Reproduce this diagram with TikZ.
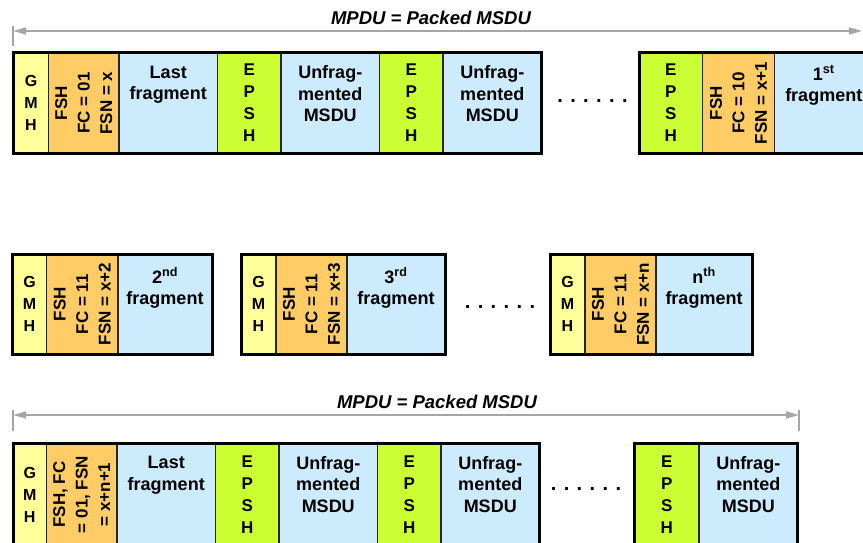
\documentclass[tikz,border=0pt]{standalone}
\usepackage{fontspec}
\setsansfont{Liberation Sans}
\usetikzlibrary{positioning,arrows.meta}
\definecolor{gmhyellow}{HTML}{FFFF99}
\definecolor{fshorange}{HTML}{FFCC66}
\definecolor{datablue}{HTML}{CCEBFC}
\definecolor{epshgreen}{HTML}{CCFF33}
\begin{document}
\begin{tikzpicture}[x=1pt, y=-1pt,
    cell/.style={draw=black!85, line width=1.3pt, outer sep=0pt, inner sep=0pt,
      anchor=north west, minimum height=101pt, align=center},
    gmh/.style={cell, fill=gmhyellow, minimum width=35pt,
      font=\sffamily\bfseries\fontsize{16}{22}\selectfont},
    fsh/.style={cell, fill=fshorange, minimum width=70.5pt},
    data/.style={cell, fill=datablue, minimum width=98.5pt},
    epsh/.style={cell, fill=epshgreen, minimum width=63.5pt,
      font=\sffamily\bfseries\fontsize{17}{22}\selectfont},
    fshtext/.style={rotate=90, inner sep=0pt, align=center,
      font=\sffamily\bfseries\fontsize{17}{22.5}\selectfont},
    datatext/.style={inner sep=0pt, align=center,
      font=\sffamily\bfseries\fontsize{18}{21.5}\selectfont},
    frame/.style={draw=black, line width=3pt},
    span/.style={draw=black!35, line width=1.3pt},
    title/.style={inner sep=0pt, font=\sffamily\bfseries\itshape\fontsize{18.5}{22}\selectfont},
    dots/.style={inner sep=0pt, font=\sffamily\bfseries\fontsize{20}{22}\selectfont}]
  \tikzset{>={Triangle[length=13pt,width=7pt]}}
  \useasboundingbox (0,0) rectangle (863,543);
  \clip (0,0) rectangle (863,543);

  % packed MPDU, top
  \node[title] (title1) at (431,18) {MPDU = Packed MSDU};
  \coordinate (sl1) at (13,31);
  \coordinate (sr1) at (862,31);
  \draw[span, <->] (sl1) -- (sr1);
  \draw[span] ([yshift=5pt]sl1) -- ([yshift=-15pt]sl1);

  \node[gmh] (gmh1) at (13.5,52.5) {G\\M\\H};
  \node[fsh, right=0pt of gmh1] (fsh1) {};
  \node[fshtext] (fsh1t) at (fsh1) {FSH\\FC = 01\\FSN = x};
  \node[data, right=0pt of fsh1] (last1) {};
  \node[datatext, below=13pt of last1.north] (last1t) {Last\\fragment};
  \node[epsh, right=0pt of last1] (epsh1) {E\\P\\S\\H};
  \node[data, right=0pt of epsh1] (msdu1) {};
  \node[datatext, below=13pt of msdu1.north] (msdu1t) {Unfrag-\\mented\\MSDU};
  \node[epsh, right=0pt of msdu1] (epsh2) {E\\P\\S\\H};
  \node[data, right=0pt of epsh2] (msdu2) {};
  \node[datatext, below=13pt of msdu2.north] (msdu2t) {Unfrag-\\mented\\MSDU};
  \draw[frame] (gmh1.north west) rectangle (msdu2.south east);

  \node[dots] (k1) at (592.5,101) {. . . . . .};

  \node[epsh] (epsh3) at (639,52.5) {E\\P\\S\\H};
  \node[fsh, minimum width=72pt, right=0pt of epsh3] (fsh2) {};
  \node[fshtext] (fsh2t) at (fsh2) {FSH\\FC = 10\\FSN = x+1};
  \node[data, right=0pt of fsh2] (frag1) {};
  \node[datatext, below=13pt of frag1.north] (frag1t) {1\textsuperscript{st}\\fragment};
  \draw[frame] (epsh3.north west) rectangle (frag1.south east);

  % fragments in their own MPDUs
  \node[gmh, minimum height=99.5pt, minimum width=34pt] (gmh2) at (12.5,254.5) {G\\M\\H};
  \node[fsh, minimum height=99.5pt, minimum width=71.5pt, right=0pt of gmh2] (fsh3) {};
  \node[fshtext] (fsh3t) at (fsh3) {FSH\\FC = 11\\FSN = x+2};
  \node[data, minimum height=99.5pt, minimum width=94pt, right=0pt of fsh3] (frag2) {};
  \node[datatext, below=13pt of frag2.north] (frag2t) {2\textsuperscript{nd}\\fragment};
  \draw[frame] (gmh2.north west) rectangle (frag2.south east);

  \node[gmh, minimum height=99.5pt] (gmh3) at (241,254.5) {G\\M\\H};
  \node[fsh, minimum height=99.5pt, minimum width=71pt, right=0pt of gmh3] (fsh4) {};
  \node[fshtext] (fsh4t) at (fsh4) {FSH\\FC = 11\\FSN = x+3};
  \node[data, minimum height=99.5pt, minimum width=98pt, right=0pt of fsh4] (frag3) {};
  \node[datatext, below=13pt of frag3.north] (frag3t) {3\textsuperscript{rd}\\fragment};
  \draw[frame] (gmh3.north west) rectangle (frag3.south east);

  \node[dots] (k2) at (500,307) {. . . . . .};

  \node[gmh, minimum height=99.5pt] (gmh4) at (550,254.5) {G\\M\\H};
  \node[fsh, minimum height=99.5pt, minimum width=71pt, right=0pt of gmh4] (fsh5) {};
  \node[fshtext] (fsh5t) at (fsh5) {FSH\\FC = 11\\FSN = x+n};
  \node[data, minimum height=99.5pt, minimum width=96pt, right=0pt of fsh5] (fragn) {};
  \node[datatext, below=13pt of fragn.north] (fragnt) {n\textsuperscript{th}\\fragment};
  \draw[frame] (gmh4.north west) rectangle (fragn.south east);

  % packed MPDU, bottom
  \node[title] (title2) at (437,402) {MPDU = Packed MSDU};
  \coordinate (sl2) at (13,415);
  \coordinate (sr2) at (799,415);
  \draw[span, <->] (sl2) -- (sr2);
  \draw[span] ([yshift=5pt]sl2) -- ([yshift=-16pt]sl2);
  \draw[span] ([yshift=5pt]sr2) -- ([yshift=-16pt]sr2);

  \node[gmh, minimum height=103pt, minimum width=33.5pt] (gmh5) at (13,443) {G\\M\\H};
  \node[fsh, minimum height=103pt, right=0pt of gmh5] (fsh6) {};
  \node[fshtext] (fsh6t) at (fsh6) {FSH, FC\\= 01, FSN\\= x+n+1};
  \node[data, minimum height=103pt, right=0pt of fsh6] (last2) {};
  \node[datatext, below=13pt of last2.north] (last2t) {Last\\fragment};
  \node[epsh, minimum height=103pt, right=0pt of last2] (epsh4) {E\\P\\S\\H};
  \node[data, minimum height=103pt, right=0pt of epsh4] (msdu3) {};
  \node[datatext, below=13pt of msdu3.north] (msdu3t) {Unfrag-\\mented\\MSDU};
  \node[epsh, minimum height=103pt, right=0pt of msdu3] (epsh5) {E\\P\\S\\H};
  \node[data, minimum height=103pt, right=0pt of epsh5] (msdu4) {};
  \node[datatext, below=13pt of msdu4.north] (msdu4t) {Unfrag-\\mented\\MSDU};
  \draw[frame] (gmh5.north west) rectangle (msdu4.south east);

  \node[dots] (k3) at (586,489) {. . . . . .};

  \node[epsh, minimum height=103pt, minimum width=64.5pt] (epsh6) at (634.5,443) {E\\P\\S\\H};
  \node[data, minimum height=103pt, right=0pt of epsh6] (msdu5) {};
  \node[datatext, below=13pt of msdu5.north] (msdu5t) {Unfrag-\\mented\\MSDU};
  \draw[frame] (epsh6.north west) rectangle (msdu5.south east);
\end{tikzpicture}
\end{document}
